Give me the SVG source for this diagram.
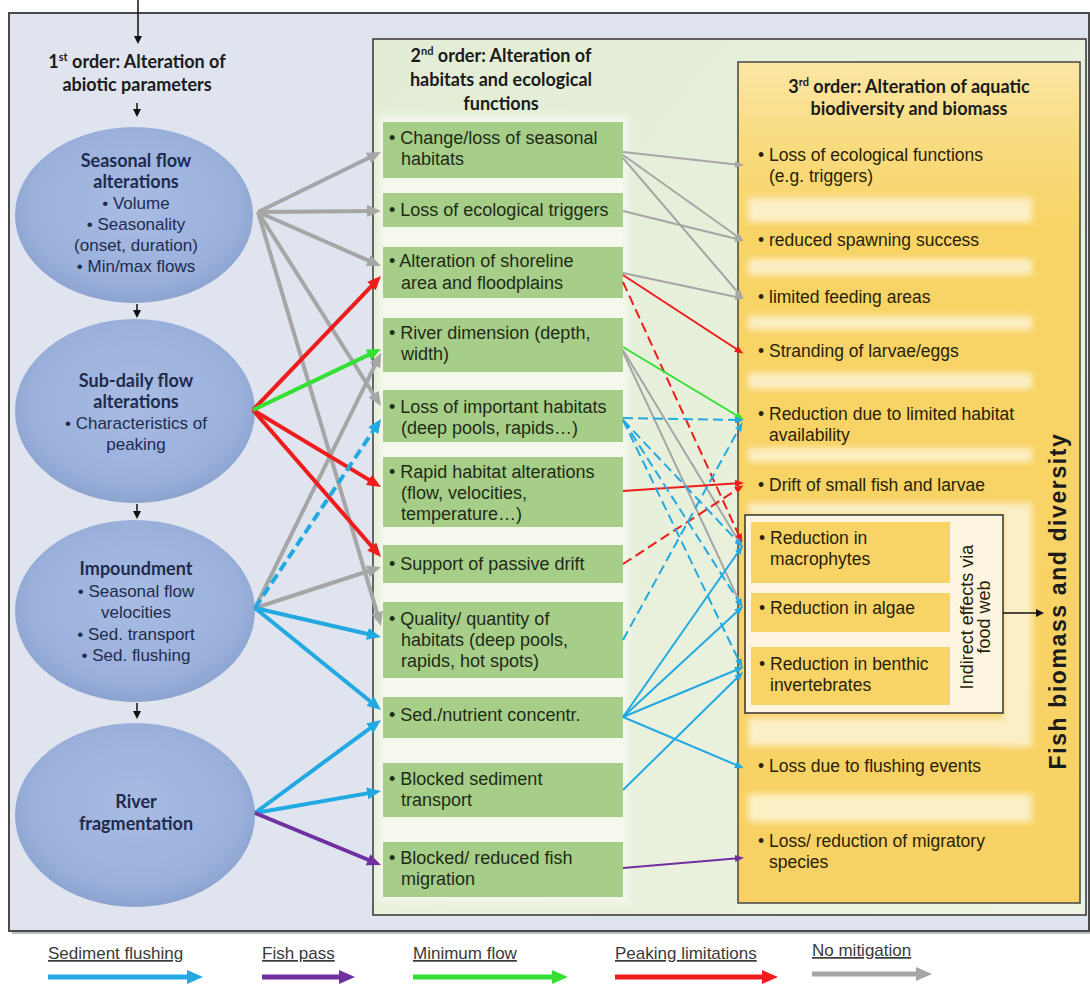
<svg xmlns="http://www.w3.org/2000/svg" width="1090" height="984" viewBox="0 0 1090 984">
<style>
.ttl{font-family:Lato,"Liberation Sans",sans-serif;font-weight:bold;font-size:18px;fill:#1b1b1b;text-anchor:middle}
.eh{font-family:Lato,"Liberation Sans",sans-serif;font-weight:bold;font-size:18px;fill:#1e2b4d;text-anchor:middle}
.eb{font-family:"Liberation Sans",Arial,sans-serif;font-size:17px;fill:#1e2b4d;text-anchor:middle}
.gb{fill:#a6ce88}
.gt{font-family:"Liberation Sans",Arial,sans-serif;font-size:18px;fill:#1f2b17}
.yb{fill:#f8d466}
.yt{font-family:"Liberation Sans",Arial,sans-serif;font-size:17.5px;fill:#2a2207}
.sep{fill:#fcefc6}
.leg{font-family:"Liberation Sans",Arial,sans-serif;font-size:17px;fill:#3a3a3a;text-decoration:underline}
.k{fill:none;stroke-width:4}
.t{fill:none;stroke-width:2}
.gy{stroke:#a6a6a6}.rd{stroke:#ee1c1c}.gn{stroke:#35e035}.bl{stroke:#22a9e1}.pu{stroke:#7030a0}
.ds{stroke-dasharray:10 5}
.blk{stroke:#111;stroke-width:1.5;fill:none}
</style>
<defs>
<radialGradient id="ellG" cx="50%" cy="45%" r="55%">
<stop offset="0" stop-color="#a8bce3"/><stop offset="0.8" stop-color="#9ab0db"/><stop offset="1" stop-color="#8ca3d0"/>
</radialGradient>
<linearGradient id="yelG" x1="0" y1="0" x2="0" y2="1">
<stop offset="0" stop-color="#fbe6a4"/><stop offset="0.09" stop-color="#f9dc82"/><stop offset="0.2" stop-color="#f8d466"/><stop offset="1" stop-color="#f7d163"/>
</linearGradient>
<linearGradient id="grnG" x1="0" y1="0" x2="1" y2="1">
<stop offset="0" stop-color="#e3edd5"/><stop offset="1" stop-color="#edf4e3"/>
</linearGradient>
<filter id="soft" x="-10%" y="-10%" width="120%" height="120%"><feGaussianBlur stdDeviation="3"/></filter>
<marker id="kgy" viewBox="0 0 14 12" refX="6" refY="6" markerWidth="14" markerHeight="12" markerUnits="userSpaceOnUse" orient="auto"><path d="M0,0 L14,6 L0,12 z" fill="#a6a6a6"/></marker>
<marker id="krd" viewBox="0 0 14 12" refX="6" refY="6" markerWidth="14" markerHeight="12" markerUnits="userSpaceOnUse" orient="auto"><path d="M0,0 L14,6 L0,12 z" fill="#ee1c1c"/></marker>
<marker id="kgn" viewBox="0 0 14 12" refX="6" refY="6" markerWidth="14" markerHeight="12" markerUnits="userSpaceOnUse" orient="auto"><path d="M0,0 L14,6 L0,12 z" fill="#35e035"/></marker>
<marker id="kbl" viewBox="0 0 14 12" refX="6" refY="6" markerWidth="14" markerHeight="12" markerUnits="userSpaceOnUse" orient="auto"><path d="M0,0 L14,6 L0,12 z" fill="#22a9e1"/></marker>
<marker id="kpu" viewBox="0 0 14 12" refX="6" refY="6" markerWidth="14" markerHeight="12" markerUnits="userSpaceOnUse" orient="auto"><path d="M0,0 L14,6 L0,12 z" fill="#7030a0"/></marker>
<marker id="tgy" viewBox="0 0 9 7" refX="6" refY="3.5" markerWidth="9" markerHeight="7" markerUnits="userSpaceOnUse" orient="auto"><path d="M0,0 L9,3.5 L0,7 z" fill="#a6a6a6"/></marker>
<marker id="trd" viewBox="0 0 9 7" refX="6" refY="3.5" markerWidth="9" markerHeight="7" markerUnits="userSpaceOnUse" orient="auto"><path d="M0,0 L9,3.5 L0,7 z" fill="#ee1c1c"/></marker>
<marker id="tgn" viewBox="0 0 9 7" refX="6" refY="3.5" markerWidth="9" markerHeight="7" markerUnits="userSpaceOnUse" orient="auto"><path d="M0,0 L9,3.5 L0,7 z" fill="#35e035"/></marker>
<marker id="tbl" viewBox="0 0 9 7" refX="6" refY="3.5" markerWidth="9" markerHeight="7" markerUnits="userSpaceOnUse" orient="auto"><path d="M0,0 L9,3.5 L0,7 z" fill="#22a9e1"/></marker>
<marker id="tpu" viewBox="0 0 9 7" refX="6" refY="3.5" markerWidth="9" markerHeight="7" markerUnits="userSpaceOnUse" orient="auto"><path d="M0,0 L9,3.5 L0,7 z" fill="#7030a0"/></marker>
<marker id="lbl" viewBox="0 0 16 14" refX="8" refY="7" markerWidth="16" markerHeight="14" markerUnits="userSpaceOnUse" orient="auto"><path d="M0,0 L16,7 L0,14 z" fill="#22a9e1"/></marker>
<marker id="lpu" viewBox="0 0 16 14" refX="8" refY="7" markerWidth="16" markerHeight="14" markerUnits="userSpaceOnUse" orient="auto"><path d="M0,0 L16,7 L0,14 z" fill="#7030a0"/></marker>
<marker id="lgn" viewBox="0 0 16 14" refX="8" refY="7" markerWidth="16" markerHeight="14" markerUnits="userSpaceOnUse" orient="auto"><path d="M0,0 L16,7 L0,14 z" fill="#35e035"/></marker>
<marker id="lrd" viewBox="0 0 16 14" refX="8" refY="7" markerWidth="16" markerHeight="14" markerUnits="userSpaceOnUse" orient="auto"><path d="M0,0 L16,7 L0,14 z" fill="#ee1c1c"/></marker>
<marker id="lgy" viewBox="0 0 16 14" refX="8" refY="7" markerWidth="16" markerHeight="14" markerUnits="userSpaceOnUse" orient="auto"><path d="M0,0 L16,7 L0,14 z" fill="#a6a6a6"/></marker>
<marker id="mb" viewBox="0 0 8 8" refX="4" refY="4" markerWidth="8" markerHeight="8" markerUnits="userSpaceOnUse" orient="auto"><path d="M0,0 L8,4 L0,8 z" fill="#111"/></marker>
</defs>

<rect x="0" y="0" width="1090" height="984" fill="#ffffff"/>

<g id="panel-1st">
<rect x="12" y="16" width="1080" height="918" fill="#777" opacity="0.5"/>
<rect x="9" y="13" width="1080" height="918" fill="#dfe4ee" stroke="#4a4a4a" stroke-width="2"/>
<text class="ttl" x="137" y="68">1<tspan font-size="11" dy="-7">st</tspan><tspan dy="7"> order: Alteration of</tspan></text>
<text class="ttl" x="137" y="91">abiotic parameters</text>
</g>

<g id="panel-2nd">
<rect x="373" y="39" width="713" height="876" fill="url(#grnG)" stroke="#333" stroke-width="1.5"/>
<rect x="379" y="116" width="249" height="786" fill="#f4f8ed" filter="url(#soft)"/>
<text class="ttl" x="501" y="62">2<tspan font-size="11" dy="-7">nd</tspan><tspan dy="7"> order: Alteration of</tspan></text>
<text class="ttl" x="501" y="86">habitats and ecological</text>
<text class="ttl" x="501" y="110">functions</text>
</g>

<g id="panel-3rd">
<rect x="738" y="62" width="342" height="841" fill="url(#yelG)" stroke="#444" stroke-width="1.5"/>
<g filter="url(#soft)">
<rect class="sep" x="748" y="198" width="284" height="24"/>
<rect class="sep" x="748" y="259" width="284" height="16"/>
<rect class="sep" x="748" y="316" width="284" height="14"/>
<rect class="sep" x="748" y="373" width="284" height="16"/>
<rect class="sep" x="748" y="448" width="284" height="14"/>
<rect class="sep" x="748" y="503" width="284" height="12"/>
<rect class="sep" x="1003" y="503" width="29" height="244"/>
<rect class="sep" x="748" y="718" width="284" height="28"/>
<rect class="sep" x="748" y="794" width="284" height="28"/>
</g>
<text class="ttl" x="909" y="93">3<tspan font-size="11" dy="-7">rd</tspan><tspan dy="7"> order: Alteration of aquatic</tspan></text>
<text class="ttl" x="909" y="115">biodiversity and biomass</text>
</g>

<g id="node-seasonal">
<ellipse cx="134" cy="215" rx="119" ry="88" fill="url(#ellG)"/>
<text class="eh" x="136" y="167">Seasonal flow</text>
<text class="eh" x="136" y="188">alterations</text>
<text class="eb" x="136" y="209">• Volume</text>
<text class="eb" x="136" y="230">• Seasonality</text>
<text class="eb" x="136" y="251">(onset, duration)</text>
<text class="eb" x="136" y="272">• Min/max flows</text>
</g>
<g id="node-subdaily">
<ellipse cx="135" cy="411" rx="120" ry="92" fill="url(#ellG)"/>
<text class="eh" x="136" y="387">Sub-daily flow</text>
<text class="eh" x="136" y="408">alterations</text>
<text class="eb" x="136" y="429">• Characteristics of</text>
<text class="eb" x="136" y="450">peaking</text>
</g>
<g id="node-impoundment">
<ellipse cx="135" cy="611" rx="120" ry="91" fill="url(#ellG)"/>
<text class="eh" x="136" y="575">Impoundment</text>
<text class="eb" x="136" y="597">• Seasonal flow</text>
<text class="eb" x="136" y="618">velocities</text>
<text class="eb" x="136" y="640">• Sed. transport</text>
<text class="eb" x="136" y="661">• Sed. flushing</text>
</g>
<g id="node-fragmentation">
<ellipse cx="135" cy="815" rx="120" ry="92" fill="url(#ellG)"/>
<text class="eh" x="136" y="808">River</text>
<text class="eh" x="136" y="830">fragmentation</text>
</g>

<g id="node-g1"><rect class="gb" x="383" y="122" width="240" height="56"/>
<text class="gt" x="389" y="144">• Change/loss of seasonal</text><text class="gt" x="401" y="165">habitats</text></g>
<g id="node-g2"><rect class="gb" x="383" y="193" width="240" height="34"/>
<text class="gt" x="389" y="216">• Loss of ecological triggers</text></g>
<g id="node-g3"><rect class="gb" x="383" y="247" width="240" height="51"/>
<text class="gt" x="389" y="267">• Alteration of shoreline</text><text class="gt" x="401" y="289">area and floodplains</text></g>
<g id="node-g4"><rect class="gb" x="383" y="318" width="240" height="54"/>
<text class="gt" x="389" y="339">• River dimension (depth,</text><text class="gt" x="401" y="360">width)</text></g>
<g id="node-g5"><rect class="gb" x="383" y="390" width="240" height="52"/>
<text class="gt" x="389" y="413">• Loss of important habitats</text><text class="gt" x="401" y="434">(deep pools, rapids…)</text></g>
<g id="node-g6"><rect class="gb" x="383" y="457" width="240" height="70"/>
<text class="gt" x="389" y="478">• Rapid habitat alterations</text><text class="gt" x="401" y="499">(flow, velocities,</text><text class="gt" x="401" y="520">temperature…)</text></g>
<g id="node-g7"><rect class="gb" x="383" y="545" width="240" height="38"/>
<text class="gt" x="389" y="570">• Support of passive drift</text></g>
<g id="node-g8"><rect class="gb" x="383" y="602" width="240" height="76"/>
<text class="gt" x="389" y="625">• Quality/ quantity of</text><text class="gt" x="401" y="646">habitats (deep pools,</text><text class="gt" x="401" y="667">rapids, hot spots)</text></g>
<g id="node-g9"><rect class="gb" x="383" y="697" width="240" height="41"/>
<text class="gt" x="389" y="721">• Sed./nutrient concentr.</text></g>
<g id="node-g10"><rect class="gb" x="383" y="763" width="240" height="54"/>
<text class="gt" x="389" y="785">• Blocked sediment</text><text class="gt" x="401" y="806">transport</text></g>
<g id="node-g11"><rect class="gb" x="383" y="842" width="240" height="55"/>
<text class="gt" x="389" y="864">• Blocked/ reduced fish</text><text class="gt" x="401" y="885">migration</text></g>

<g id="node-y1"><text class="yt" x="758" y="161">• Loss of ecological functions</text><text class="yt" x="769" y="182">(e.g. triggers)</text></g>
<g id="node-y2"><text class="yt" x="758" y="246">• reduced spawning success</text></g>
<g id="node-y3"><text class="yt" x="758" y="303">• limited feeding areas</text></g>
<g id="node-y4"><text class="yt" x="758" y="357">• Stranding of larvae/eggs</text></g>
<g id="node-y5"><text class="yt" x="758" y="420">• Reduction due to limited habitat</text><text class="yt" x="769" y="441">availability</text></g>
<g id="node-y6"><text class="yt" x="758" y="491">• Drift of small fish and larvae</text></g>
<g id="node-foodweb">
<rect x="745" y="515" width="258" height="198" fill="#fdf5df" stroke="#333" stroke-width="1.5"/>
<rect class="yb" x="751" y="522" width="199" height="61"/>
<rect class="yb" x="751" y="593" width="199" height="39"/>
<rect class="yb" x="751" y="647" width="199" height="58"/>
<text class="yt" x="759" y="544">• Reduction in</text><text class="yt" x="770" y="565">macrophytes</text>
<text class="yt" x="759" y="614">• Reduction in algae</text>
<text class="yt" x="759" y="670">• Reduction in benthic</text><text class="yt" x="770" y="691">invertebrates</text>
<text class="yt" transform="translate(973,617) rotate(-90)" text-anchor="middle" style="font-size:18px">Indirect effects via</text>
<text class="yt" transform="translate(990,617) rotate(-90)" text-anchor="middle" style="font-size:18px">food web</text>
</g>
<g id="node-y8"><text class="yt" x="758" y="772">• Loss due to flushing events</text></g>
<g id="node-y9"><text class="yt" x="758" y="847">• Loss/ reduction of migratory</text><text class="yt" x="769" y="868">species</text></g>
<g id="node-fish">
<text transform="translate(1066,601) rotate(-90)" text-anchor="middle" style="font-family:'Liberation Sans',Arial,sans-serif;font-weight:bold;font-size:23px;fill:#1b1b1b;letter-spacing:1.6px">Fish biomass and diversity</text>
</g>

<g id="connectors">
<line class="blk" x1="138" y1="0" x2="138" y2="40" marker-end="url(#mb)"/>
<line class="blk" x1="137" y1="103" x2="137" y2="113" marker-end="url(#mb)"/>
<line class="blk" x1="137" y1="304" x2="137" y2="314" marker-end="url(#mb)"/>
<line class="blk" x1="137" y1="504" x2="137" y2="515" marker-end="url(#mb)"/>
<line class="blk" x1="137" y1="703" x2="137" y2="715" marker-end="url(#mb)"/>
<line class="blk" x1="1003" y1="613" x2="1040" y2="613" marker-end="url(#mb)"/>

<g class="k gy">
<path d="M258,212 L373.8,155.5" marker-end="url(#kgy)"/>
<path d="M258,212 L373,211" marker-end="url(#kgy)"/>
<path d="M258,212 L373.7,262.8" marker-end="url(#kgy)"/>
<path d="M258,212 L376.7,399.2" marker-end="url(#kgy)"/>
<path d="M258,212 L378.7,618.3" marker-end="url(#kgy)"/>
<path d="M255,608 L377.5,360.2" marker-end="url(#kgy)"/>
<path d="M255,608 L373.4,569.5" marker-end="url(#kgy)"/>
</g>
<g class="k rd">
<path d="M253,410 L375.5,281.8" marker-end="url(#krd)"/>
<path d="M253,410 L374.1,482.9" marker-end="url(#krd)"/>
<path d="M253,410 L375.7,551" marker-end="url(#krd)"/>
</g>
<path class="k gn" d="M253,410 L373.8,352.4" marker-end="url(#kgn)"/>
<g class="k bl">
<path class="ds" d="M255,608 L376.6,425.7" marker-end="url(#kbl)"/>
<path d="M255,608 L373.2,635.2" marker-end="url(#kbl)"/>
<path d="M255,608 L374.8,705" marker-end="url(#kbl)"/>
<path d="M255,813 L374.6,724.8" marker-end="url(#kbl)"/>
<path d="M255,813 L373.1,792.4" marker-end="url(#kbl)"/>
</g>
<path class="k pu" d="M255,813 L373.6,862" marker-end="url(#kpu)"/>

<g class="t gy">
<path d="M623,152 L741,165" marker-end="url(#tgy)"/>
<path d="M623,155 L741,239" marker-end="url(#tgy)"/>
<path d="M623,158 L741,296" marker-end="url(#tgy)"/>
<path d="M623,211 L741,240" marker-end="url(#tgy)"/>
<path d="M623,273 L741,298" marker-end="url(#tgy)"/>
<path d="M623,350 L741,545" marker-end="url(#tgy)"/>
<path d="M623,352 L741,605" marker-end="url(#tgy)"/>
</g>
<g class="t rd">
<path d="M623,275 L741,352" marker-end="url(#trd)"/>
<path class="ds" d="M623,282 L741,540" marker-end="url(#trd)"/>
<path d="M623,491 L741,483" marker-end="url(#trd)"/>
<path class="ds" d="M623,564 L741,487" marker-end="url(#trd)"/>
</g>
<path class="t gn" d="M623,347 L741,418" marker-end="url(#tgn)"/>
<g class="t bl">
<path class="ds" d="M623,418 L741,420" marker-end="url(#tbl)"/>
<path class="ds" d="M623,420 L741,545" marker-end="url(#tbl)"/>
<path class="ds" d="M623,420 L741,605" marker-end="url(#tbl)"/>
<path class="ds" d="M623,420 L741,665" marker-end="url(#tbl)"/>
<path class="ds" d="M623,640 L741,425" marker-end="url(#tbl)"/>
<path d="M623,717 L741,548" marker-end="url(#tbl)"/>
<path d="M623,717 L741,608" marker-end="url(#tbl)"/>
<path d="M623,717 L741,668" marker-end="url(#tbl)"/>
<path d="M623,717 L741,767" marker-end="url(#tbl)"/>
<path d="M623,790 L741,674" marker-end="url(#tbl)"/>
</g>
<path class="t pu" d="M623,868 L741,858" marker-end="url(#tpu)"/>
</g>

<g id="legend">
<text class="leg" x="48" y="959">Sediment flushing</text>
<line x1="48" y1="977" x2="195" y2="977" stroke="#22a9e1" stroke-width="5" marker-end="url(#lbl)"/>
<text class="leg" x="262" y="959">Fish pass</text>
<line x1="262" y1="977" x2="347" y2="977" stroke="#7030a0" stroke-width="5" marker-end="url(#lpu)"/>
<text class="leg" x="413" y="959">Minimum flow</text>
<line x1="413" y1="977" x2="560" y2="977" stroke="#35e035" stroke-width="5" marker-end="url(#lgn)"/>
<text class="leg" x="615" y="959">Peaking limitations</text>
<line x1="615" y1="977" x2="770" y2="977" stroke="#ee1c1c" stroke-width="5" marker-end="url(#lrd)"/>
<text class="leg" x="812" y="956">No mitigation</text>
<line x1="812" y1="974" x2="924" y2="974" stroke="#a6a6a6" stroke-width="5" marker-end="url(#lgy)"/>
</g>
</svg>
